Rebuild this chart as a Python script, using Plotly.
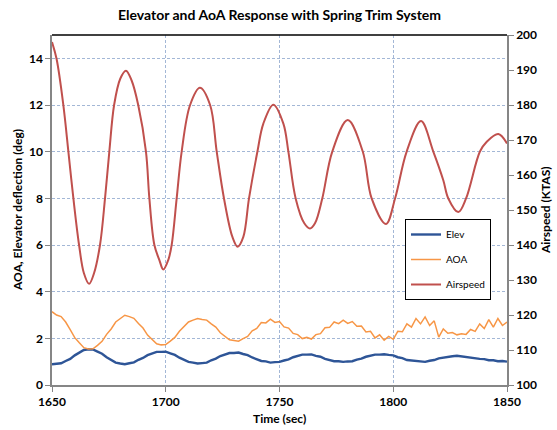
import plotly.graph_objects as go

# ---- data ----
time_s = list(range(1650, 1851, 2))

elev_deg = [
    0.89, 0.91, 0.93, 1.03, 1.12, 1.27, 1.38, 1.50, 1.53,
    1.52, 1.43, 1.34, 1.19, 1.08, 0.96, 0.92, 0.89,
    0.93, 0.97, 1.08, 1.16, 1.28, 1.35, 1.42, 1.42, 1.43,
    1.36, 1.29, 1.17, 1.09, 0.99, 0.96, 0.92, 0.94,
    0.96, 1.06, 1.13, 1.24, 1.30, 1.37, 1.37, 1.39,
    1.33, 1.28, 1.18, 1.12, 1.03, 1.01, 0.96, 0.98, 0.99,
    1.05, 1.10, 1.19, 1.24, 1.30, 1.30,
    1.31, 1.25, 1.21, 1.12, 1.08, 1.02, 1.02, 0.99, 1.01,
    1.02, 1.09, 1.13, 1.21, 1.25, 1.30, 1.30, 1.32, 1.29,
    1.27, 1.19, 1.15, 1.07, 1.05, 1.00, 1.01, 0.99,
    1.04, 1.07, 1.14, 1.17, 1.23, 1.23, 1.25, 1.22,
    1.21, 1.18, 1.16, 1.12, 1.11, 1.06, 1.06, 1.02, 1.03, 1.00,
]

aoa_deg = [
    3.14, 3.00, 2.93, 2.70, 2.37, 2.03, 1.81, 1.60, 1.54,
    1.55, 1.70, 1.87, 2.17, 2.40, 2.70, 2.86, 2.99,
    2.93, 2.86, 2.64, 2.44, 2.14, 1.95, 1.77, 1.72, 1.73,
    1.88, 2.04, 2.30, 2.49, 2.70, 2.78, 2.85, 2.81,
    2.78, 2.62, 2.48, 2.24, 2.10, 1.94, 1.91, 1.88,
    1.99, 2.08, 2.32, 2.42, 2.68, 2.66, 2.82, 2.68, 2.72,
    2.49, 2.44, 2.21, 2.16, 1.99, 2.04,
    1.97, 2.16, 2.20, 2.45, 2.47, 2.70, 2.63, 2.78, 2.64,
    2.72, 2.52, 2.53, 2.27, 2.30, 2.02, 2.15, 1.92, 2.08,
    1.96, 2.30, 2.28, 2.62, 2.48, 2.85, 2.62, 2.92,
    2.55, 2.75, 2.05, 2.40, 2.22, 2.25, 2.15, 2.20,
    2.17, 2.38, 2.30, 2.62, 2.42, 2.80, 2.48, 2.85, 2.55, 2.70,
]

airspeed_t = [
    1650, 1652, 1655, 1657.2, 1659.4, 1661.9, 1664, 1666.3, 1668.5, 1671.1,
    1673.3, 1675.2, 1677.3, 1680, 1682.5, 1685, 1687.9, 1691.3, 1692.8, 1695.0,
    1697.2, 1698.9, 1701.1, 1702.6, 1704.8, 1707, 1710.7, 1715, 1719.5, 1722.4,
    1725.6, 1729.3, 1731.6, 1734.1, 1736.6, 1740.3, 1742.9, 1747.3, 1751.7,
    1753.9, 1757.1, 1760.9, 1763.4, 1765.6, 1768.8, 1773.2, 1780, 1786.6,
    1790.5, 1796.8, 1800.8, 1805.9, 1812.2, 1817.6, 1822, 1824.2, 1828.6,
    1832, 1838.1, 1841.1, 1846.2, 1850,
]
airspeed_ktas = [
    198.0, 193.2, 179.9, 166.7, 153.3, 140.0, 132.0, 128.9, 132.0, 140.0,
    153.3, 166.7, 180.0, 187.5, 189.8, 187.0, 180.0, 166.7, 153.3, 140.0,
    135.7, 133.0, 135.7, 140.0, 153.3, 166.7, 180.0, 184.9, 180.0, 166.7,
    153.3, 142.3, 139.5, 142.3, 153.3, 166.7, 174.7, 180.1, 174.7,
    166.7, 153.3, 146.2, 144.7, 146.2, 153.3, 166.7, 175.7, 166.7,
    153.3, 146.0, 153.3, 166.7, 175.4, 166.7, 158.5, 153.3, 149.4,
    153.3, 166.7, 169.5, 171.7, 169.0,
]

left_ticks = [0, 2, 4, 6, 8, 10, 12, 14]
right_ticks = [100, 110, 120, 130, 140, 150, 160, 170, 180, 190, 200]
x_ticks = [1650, 1700, 1750, 1800, 1850]

FONT = "Lato"
GRID = "#A3B7D6"
AXIS = "#868686"
L, R, T, B = 52, 50, 35, 45
PW = 557 - L - R
PH = 430 - T - B

fig = go.Figure()
fig.add_trace(go.Scatter(x=time_s, y=elev_deg, name="Elev", mode="lines",
                         line=dict(color="#2E5597", width=2.4),
                         legendgroup="a"))
fig.add_trace(go.Scatter(x=time_s, y=aoa_deg, name="AOA", mode="lines",
                         line=dict(color="#F79646", width=1.5),
                         legendgroup="b"))
fig.add_trace(go.Scatter(x=airspeed_t, y=airspeed_ktas, name="Airspeed",
                         mode="lines", yaxis="y2",
                         line=dict(color="#C0504D", width=2, shape="spline",
                                   smoothing=1.0),
                         legendgroup="c"))

axis_common = dict(tickfont=dict(size=12, family=FONT), showline=True,
                   linecolor=AXIS, linewidth=1.5, ticks="outside", ticklen=5,
                   tickcolor=AXIS, zeroline=False, automargin=False)

fig.update_layout(
    width=557, height=430,
    margin=dict(l=L, r=R, t=T, b=B, autoexpand=False),
    paper_bgcolor="white", plot_bgcolor="white",
    font=dict(family=FONT, color="#000000"),
    title=dict(text="<b>Elevator and AoA Response with Spring Trim System</b>",
               x=0.5, xref="paper", y=0.965, yanchor="middle",
               font=dict(size=14, family=FONT)),
    xaxis=dict(range=[1650, 1850], tickvals=x_ticks,
               ticktext=[f"<b>{v}</b>" for v in x_ticks],
               showgrid=True, gridcolor=GRID, griddash="3px,2px", gridwidth=1.3,
               **axis_common),
    yaxis=dict(range=[0, 15], tickvals=left_ticks,
               ticktext=[f"<b>{v}</b>" for v in left_ticks],
               showgrid=True, gridcolor=GRID, griddash="3px,2px", gridwidth=1.3,
               **axis_common),
    yaxis2=dict(range=[100, 200], tickvals=right_ticks,
                ticktext=[f"<b>{v}</b>" for v in right_ticks],
                overlaying="y", side="right", showgrid=False,
                **axis_common),
    legend=dict(x=(405 - L) / PW, y=(430 - B - 219) / PH, xanchor="left",
                yanchor="top",
                bgcolor="white", bordercolor="#000000", borderwidth=1,
                font=dict(size=10, family=FONT), tracegroupgap=6,
                itemwidth=30),
    showlegend=True,
)

fig.add_annotation(text="<b>Time (sec)</b>", xref="paper", yref="paper",
                   x=0.5, y=(430 - B - 418) / PH, showarrow=False,
                   font=dict(size=12, family=FONT), xanchor="center",
                   yanchor="middle")
fig.add_annotation(text="<b>AOA, Elevator deflection (deg)</b>", xref="paper",
                   yref="paper", x=(17 - L) / PW, y=0.5, textangle=-90,
                   showarrow=False, font=dict(size=12, family=FONT),
                   xanchor="center", yanchor="middle")
fig.add_annotation(text="<b>Airspeed (KTAS)</b>", xref="paper", yref="paper",
                   x=(545 - L) / PW, y=0.5, textangle=-90, showarrow=False,
                   font=dict(size=12, family=FONT), xanchor="center",
                   yanchor="middle")

fig.add_shape(type="line", xref="paper", yref="paper", x0=0, x1=1, y0=1, y1=1,
              line=dict(color="#000000", width=1.5))

fig.write_html("out.html",
               config={"displayModeBar": False},
               post_script="document.body.style.margin='0';"
                           "document.body.style.overflow='hidden';")
